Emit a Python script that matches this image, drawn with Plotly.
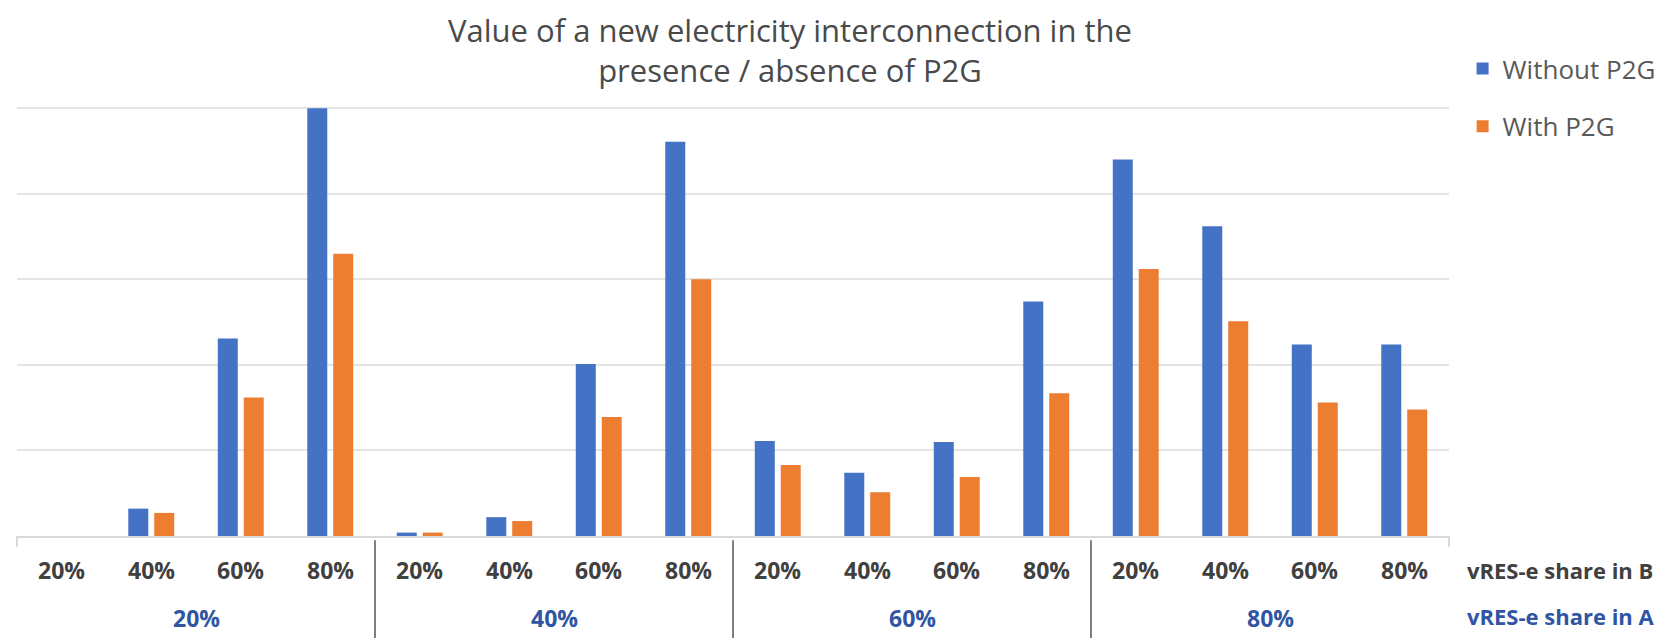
import plotly.graph_objects as go

# vRES-e shares in the two countries (outer = A, inner = B)
share_a = ["20%", "40%", "60%", "80%"]
share_b = ["20%", "40%", "60%", "80%"]

# Value of the new interconnection (relative units), ordered A-major, B-minor
without_p2g = [0.00, 0.32, 2.31, 5.00,
               0.04, 0.22, 2.01, 4.61,
               1.11, 0.74, 1.10, 2.74,
               4.40, 3.62, 2.24, 2.24]
with_p2g = [0.00, 0.27, 1.62, 3.30,
            0.04, 0.175, 1.39, 3.00,
            0.83, 0.51, 0.69, 1.67,
            3.12, 2.51, 1.56, 1.48]

series_names = ["Without P2G", "With P2G"]
y_ticks = [0, 1, 2, 3, 4, 5]

BLUE = "#4472C4"
ORANGE = "#ED7D31"
DARK = "#404040"
GROUP_BLUE = "#2F55A3"
FONT = "Open Sans"

cats = [f"{a}|{b}" for a in share_a for b in share_b]

fig = go.Figure()
fig.add_trace(go.Bar(x=cats, y=without_p2g, name=series_names[0],
                     marker=dict(color=BLUE, line=dict(width=0)),
                     legendgroup="a"))
fig.add_trace(go.Bar(x=cats, y=with_p2g, name=series_names[1],
                     marker=dict(color=ORANGE, line=dict(width=0)),
                     legendgroup="b"))

annotations = []
# inner (B share) labels under each bar pair
for i, key in enumerate(cats):
    b = share_b[i % len(share_b)]
    annotations.append(dict(x=key, xref="x", y=0, yref="paper",
                            yanchor="middle", yshift=-34, text=f"<b>{b}</b>",
                            showarrow=False,
                            font=dict(family=FONT, size=23, color=DARK)))
# outer (A share) labels centred under each group
nb = len(share_b)
for g, a in enumerate(share_a):
    annotations.append(dict(x=g * nb + (nb - 1) / 2, xref="x", y=0, yref="paper",
                            yanchor="middle", yshift=-82, text=f"<b>{a}</b>",
                            showarrow=False,
                            font=dict(family=FONT, size=23, color=GROUP_BLUE)))
# level captions on the right
annotations.append(dict(x=1.011, xref="paper", y=0, yref="paper", xanchor="left",
                        yanchor="middle", yshift=-34,
                        text="<b>vRES-e share in B</b>", showarrow=False,
                        font=dict(family=FONT, size=22, color=DARK)))
annotations.append(dict(x=1.011, xref="paper", y=0, yref="paper", xanchor="left",
                        yanchor="middle", yshift=-80,
                        text="<b>vRES-e share in A</b>", showarrow=False,
                        font=dict(family=FONT, size=22, color=GROUP_BLUE)))

shapes = []
# group dividers below the axis
for g in range(1, len(share_a)):
    xb = g * nb - 0.5
    shapes.append(dict(type="line", xref="x", yref="paper", x0=xb, x1=xb,
                       y0=-0.01, y1=-0.245,
                       line=dict(color="#7F7F7F", width=2)))
# short end ticks at both ends of the category axis
for xe in (0, 1):
    shapes.append(dict(type="line", xref="paper", yref="paper", x0=xe, x1=xe,
                       y0=0, y1=-0.025, line=dict(color="#D9D9D9", width=2)))

fig.update_layout(
    width=1661, height=638,
    margin=dict(l=17, r=212, t=104, b=102, autoexpand=False),
    paper_bgcolor="white", plot_bgcolor="white",
    barmode="group", bargap=0.42, bargroupgap=0.23,
    title=dict(text="Value of a new electricity interconnection in the<br>presence / absence of P2G",
               x=790 / 1661, xref="container", xanchor="center",
               y=1 - 42 / 638, yref="container", yanchor="middle",
               font=dict(family=FONT, size=31, color="#4A4A4A")),
    legend=dict(x=1.0095, xanchor="left", y=1.1366, yanchor="top",
                font=dict(family=FONT, size=26, color="#595959"),
                traceorder="grouped", tracegroupgap=21,
                bgcolor="rgba(0,0,0,0)"),
    xaxis=dict(type="category", categoryorder="array", categoryarray=cats,
               showticklabels=False, ticks="", showgrid=False,
               showline=True, linecolor="#D9D9D9", linewidth=2,
               zeroline=False, fixedrange=True),
    yaxis=dict(range=[0, 5.05], tickvals=y_ticks, showticklabels=False,
               showgrid=True, gridcolor="#E4E4E4", gridwidth=2,
               zeroline=False, showline=False, fixedrange=True),
    annotations=annotations,
    shapes=shapes,
    showlegend=True,
)

fig.write_html("out.html")
